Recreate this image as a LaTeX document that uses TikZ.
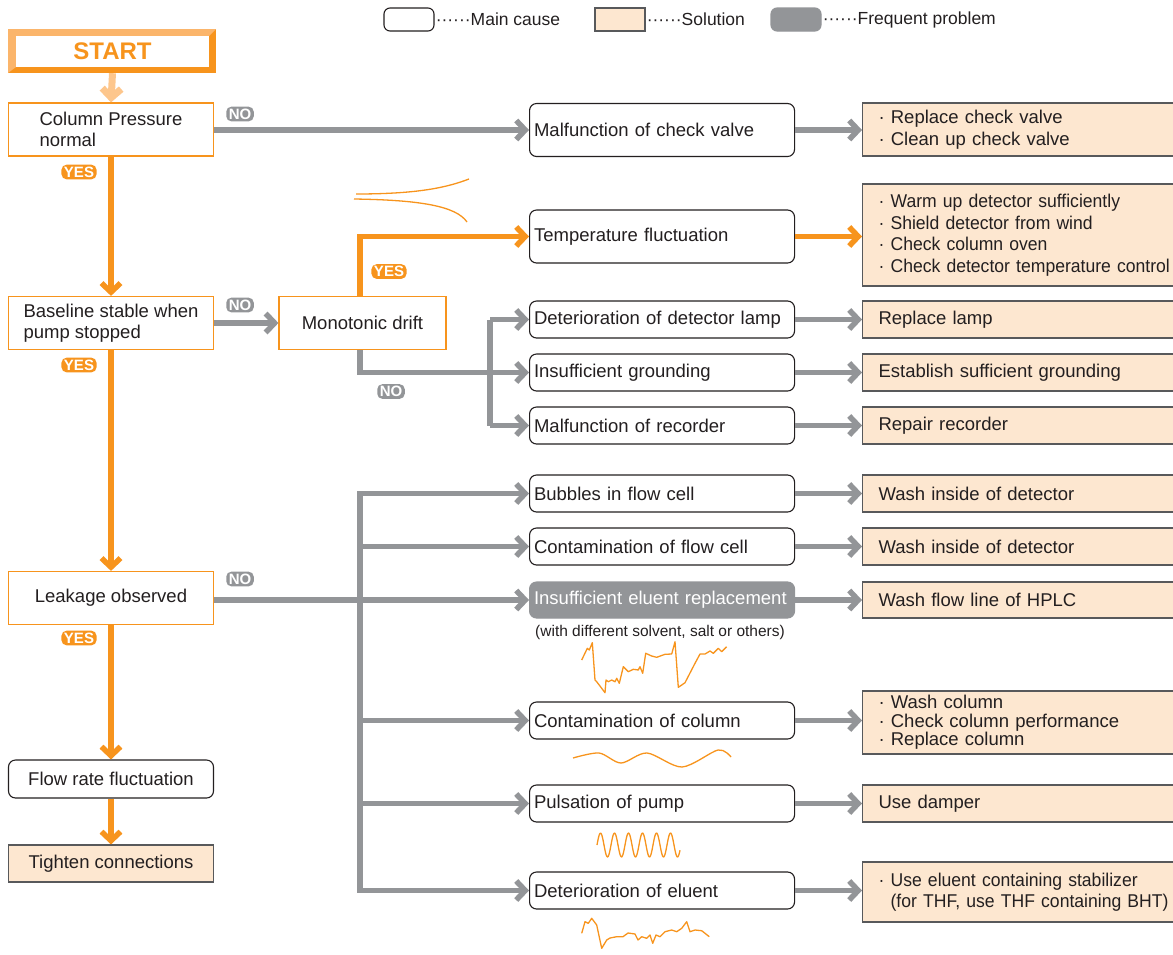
\documentclass[tikz,border=0pt]{standalone}
\usepackage{fontspec}
\setmainfont{Liberation Sans}
\newfontfamily\narrowsans[FakeStretch=0.95]{Liberation Sans}
\usetikzlibrary{arrows.meta}

\definecolor{hplcorange}{HTML}{F7941D}
\definecolor{hplclight}{HTML}{FBB56B}
\definecolor{hplcpale}{HTML}{FDC68C}
\definecolor{hplcgray}{HTML}{939598}
\definecolor{hplcpeach}{HTML}{FDE7D0}
\definecolor{fixline}{HTML}{58595B}
\definecolor{ink}{HTML}{231F20}

\begin{document}
\begin{tikzpicture}[
    x=1pt, y=-1pt,
    txt/.style={font=\fontsize{18.5}{21.5}\selectfont, text=ink},
    askbox/.style={txt, draw=hplcorange, line width=1.2pt, fill=white, align=left, minimum width=205pt, minimum height=53pt, inner sep=2pt},
    causebox/.style={txt, draw=ink, line width=1.1pt, rounded corners=7pt, fill=white, align=left, text width=256pt, inner xsep=4.5pt, inner ysep=2pt, minimum height=37pt, anchor=west},
    freqbox/.style={causebox, draw=hplcgray, fill=hplcgray, text=white},
    fixbox/.style={txt, draw=fixline, line width=1.1pt, fill=hplcpeach, align=left, text width=330pt, inner xsep=16pt, inner ysep=2pt, minimum height=37pt, anchor=west},
    legbox/.style={draw=ink, line width=1.1pt, rounded corners=6pt, fill=white, minimum width=50pt, minimum height=23pt, inner sep=0pt},
    legtext/.style={txt, font=\fontsize{17.5}{20}\selectfont, anchor=west, inner sep=1pt},
    yestag/.style={fill=hplcorange, text=white, font=\fontsize{15}{15}\selectfont\bfseries, rounded corners=5pt, inner xsep=2.5pt, inner ysep=2pt},
    notag/.style={yestag, fill=hplcgray},
    gline/.style={draw=hplcgray, line width=5.5pt},
    garrow/.style={gline, -{Straight Barb[length=9pt, width=19pt]}},
    oarrow/.style={garrow, draw=hplcorange},
    sarrow/.style={garrow, draw=hplcpale, line width=7pt},
    wavy/.style={draw=hplcorange, line width=1.3pt, line join=round},
  ]

\useasboundingbox (0,0) rectangle (1173,954);

\def\causex{529}
\def\fixx{862}

  % Legend
  \node[legbox] (lcause) at (409,19.5) {};
  \node[legtext] (lcauset) at (lcause.east) {······Main cause};
  \node[legbox, rounded corners=0pt, draw=fixline, fill=hplcpeach] (lfix) at (620,19.5) {};
  \node[legtext] (lfixt) at (lfix.east) {······Solution};
  \node[legbox, draw=hplcgray, fill=hplcgray] (lfreq) at (796,19.5) {};
  \node[legtext] (lfreqt) at (lfreq.east) {······Frequent problem};

  % START
  \fill[hplcorange] (8,29) rectangle (216,73);
  \fill[hplclight] (8,29) -- (216,29) -- (209,36) -- (16,36) -- (16,67) -- (8,73) -- cycle;
  \node[fill=white, minimum width=193pt, minimum height=31pt, inner sep=0pt,
        text=hplcorange, font=\fontsize{24}{24}\selectfont\bfseries] (start) at (112.5,51.5) {START};

  % Left column (questions)
  \node[askbox] (press) at (111,129.5) {Column Pressure\\normal};
  \node[askbox] (stable) at (111,323) {Baseline stable when\\pump stopped};
  \node[askbox, minimum width=167pt] (mono) at (362.5,323) {Monotonic drift};
  \node[askbox] (leak) at (111,598) {Leakage observed};
  \node[askbox, draw=ink, line width=1.1pt, rounded corners=7pt, minimum height=38pt] (flow) at (111,779) {Flow rate fluctuation};
  \node[askbox, draw=fixline, line width=1.1pt, fill=hplcpeach, minimum height=37pt] (tight) at (111,863.5) {Tighten connections};

  % Main causes
  \node[causebox, minimum height=53pt] (cv) at (\causex,130) {Malfunction of check valve};
  \node[causebox, minimum height=53pt] (tf) at (\causex,236.5) {Temperature fluctuation};
  \node[causebox] (dl) at (\causex,319.5) {Deterioration of detector lamp};
  \node[causebox] (ig) at (\causex,372.5) {Insufficient grounding};
  \node[causebox] (mr) at (\causex,425.5) {Malfunction of recorder};
  \node[causebox] (bf) at (\causex,493.5) {Bubbles in flow cell};
  \node[causebox] (cf) at (\causex,546.5) {Contamination of flow cell};
  \node[freqbox, minimum height=36pt] (ie) at (\causex,600) {Insufficient eluent replacement};
  \node[txt, font=\fontsize{15.5}{18}\selectfont] (ienote) at (660,632) {(with different solvent, salt or others)};
  \node[causebox] (cc) at (\causex,720.5) {Contamination of column};
  \node[causebox] (pp) at (\causex,803.5) {Pulsation of pump};
  \node[causebox] (de) at (\causex,890.5) {Deterioration of eluent};

  % Solutions
  \node[fixbox, minimum height=53pt] (scv) at (\fixx,129.5) {· Replace check valve\\· Clean up check valve};
  \node[fixbox, minimum height=102pt, font=\fontsize{18.5}{21.5}\narrowsans] (stf) at (\fixx,235) {· Warm up detector sufficiently\\· Shield detector from wind\\· Check column oven\\· Check detector temperature control};
  \node[fixbox] (sdl) at (\fixx,319.5) {Replace lamp};
  \node[fixbox] (sig) at (\fixx,372.5) {Establish sufficient grounding};
  \node[fixbox] (smr) at (\fixx,425.5) {Repair recorder};
  \node[fixbox] (sbf) at (\fixx,493.5) {Wash inside of detector};
  \node[fixbox] (scf) at (\fixx,546.5) {Wash inside of detector};
  \node[fixbox, minimum height=36pt] (sie) at (\fixx,600) {Wash flow line of HPLC};
  \node[fixbox, minimum height=63pt, font=\fontsize{18.5}{18.5}\selectfont] (scc) at (\fixx,722.5) {· Wash column\\· Check column performance\\· Replace column};
  \node[fixbox] (spp) at (\fixx,803.5) {Use damper};
  \node[fixbox, minimum height=60pt, font=\fontsize{18.5}{21.5}\narrowsans] (sde) at (\fixx,892) {· Use eluent containing stabilizer\\\phantom{· }(for THF, use THF containing BHT)};

  % YES / NO tags
  \node[yestag] (yes1) at (79,172) {YES};
  \node[yestag] (yes2) at (79,365) {YES};
  \node[yestag] (yes3) at (79,638) {YES};
  \node[yestag] (yes4) at (389,271.5) {YES};
  \node[notag] (no1) at (240,114) {NO};
  \node[notag] (no2) at (240,305) {NO};
  \node[notag] (no3) at (240,579) {NO};
  \node[notag] (no4) at (391,391.5) {NO};

  % Bus coordinates
  \coordinate (mdrop) at (360,0);
  \coordinate (rbus) at (490,0);
  \coordinate (lbus) at (360,0);

  % Main line (YES)
  \draw[sarrow] ([yshift=-6pt]start.south) -- (press.north);
  \draw[oarrow] (press.south) -- (stable.north);
  \draw[oarrow] (stable.south) -- (leak.north);
  \draw[oarrow] (leak.south) -- (flow.north);
  \draw[oarrow] (flow.south) -- (tight.north);

  % NO branches
  \draw[garrow] (press.east |- cv.west) -- (cv.west);
  \draw[garrow] (stable.east) -- (mono.west);
  \draw[oarrow] (mdrop |- mono.north) -- (mdrop |- tf.west) -- (tf.west);
  \draw[gline] (rbus |- dl.west) -- (rbus |- mr.west);
  \draw[garrow] (mdrop |- mono.south) -- (mdrop |- ig.west) -- (ig.west);
  \foreach \c in {dl,mr}
    \draw[garrow] (rbus |- \c.west) -- (\c.west);

  \draw[gline, line cap=rect] (lbus |- bf.west) -- (lbus |- de.west);
  \draw[garrow] (leak.east |- ie.west) -- (ie.west);
  \foreach \c in {bf,cf,cc,pp,de}
    \draw[garrow] (lbus |- \c.west) -- (\c.west);

  % Cause to solution
  \foreach \c in {cv,dl,ig,mr,bf,cf,ie,cc,pp,de}
    \draw[garrow] (\c.east) -- (s\c.west |- \c.east);
  \draw[oarrow] (tf.east) -- (stf.west |- tf.east);

  % Baseline sketches
  \draw[wavy] (356,194) .. controls (420,194) and (448,187) .. (469,179);
  \draw[wavy] (354,199) .. controls (420,200) and (456,206) .. (467,222);
  \draw[wavy] (581.7,660) -- (587.3,648.3) -- (589.3,650) -- (592.3,642.7) -- (595,680) -- (596.7,681.7)
    -- (605,692.7) -- (606,680) -- (608.3,681.7) -- (611.7,680) -- (615,681.7) -- (616.7,678.3)
    -- (619.3,683.3) -- (623.3,666.7) -- (628.3,671.7) -- (633.3,669.3) -- (638.3,670) -- (640,666.7)
    -- (642.7,673.3) -- (645.7,653.3) -- (651.7,656) -- (656.7,657.3) -- (665,654.3) -- (671.7,654)
    -- (675,641.7) -- (678.3,687.3) -- (681.7,685) -- (685,682.7) -- (695,663.3) -- (700,654)
    -- (705,654) -- (710,651) -- (713.3,653.3) -- (718.3,648.3) -- (721.7,651.7) -- (726.7,646.7);
  \draw[wavy] plot[smooth] coordinates {(573,758) (599,753) (621,763) (647,753) (682,767) (718,750) (731,757)};
  \draw[wavy] plot[domain=0:83, samples=120, smooth] ({597+\x}, {845-12*sin(25.714*\x)});
  \draw[wavy] (581.7,933.3) -- (585,921.7) -- (588.3,923.3) -- (591.7,918.3) -- (596.7,925) -- (601.7,948.3)
    -- (606.7,940) -- (610,938) -- (616.7,936.7) -- (623,936.7) -- (628,933) -- (635,934)
    -- (638,940) -- (641.7,936.7) -- (646.7,938.3) -- (650,935) -- (652.7,943.3) -- (656,935)
    -- (660,936.7) -- (665,931.7) -- (671.7,930) -- (676.7,931.7) -- (681.7,928.3) -- (686.7,921.7)
    -- (690,931.7) -- (695,930) -- (701.7,930.7) -- (709.3,936.7);

\end{tikzpicture}
\end{document}
